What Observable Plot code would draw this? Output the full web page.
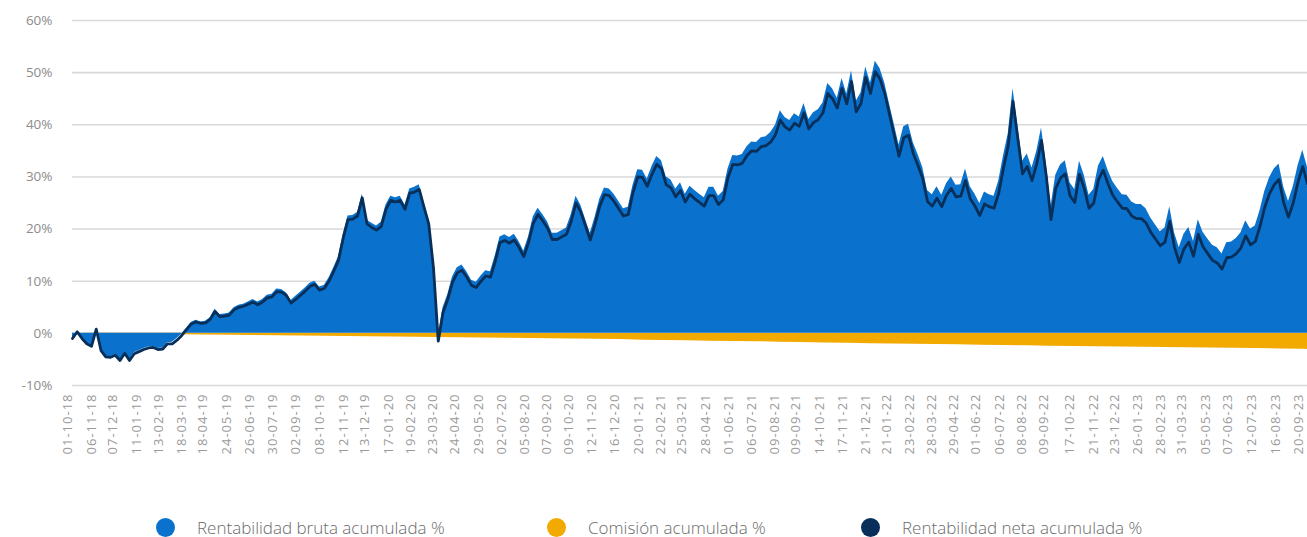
<!DOCTYPE html>
<html>
<head>
<meta charset="utf-8">
<script src="https://cdn.jsdelivr.net/npm/d3@7"></script>
<script src="https://cdn.jsdelivr.net/npm/@observablehq/plot@0.6"></script>
<style>
  html, body { margin: 0; padding: 0; background: #fff; }
  body { width: 1307px; height: 537px; overflow: hidden; font-family: "Open Sans", Lato, sans-serif; }
  #chart svg { display: block; }
  #chart svg g[aria-label="x-axis tick label"] text { letter-spacing: 1px; }
  #legend { position: relative; height: 20px; margin-top: 17px; }
  .item { position: absolute; top: 0; display: flex; align-items: center; height: 20px; }
  .dot { width: 19px; height: 19px; border-radius: 50%; margin-right: 22px; }
  .lbl { font-size: 17px; font-weight: 300; color: #6b6b6b; white-space: nowrap; }
</style>
</head>
<body>
<div id="chart"></div>
<div id="legend"></div>
<script>
// ---- data ----
const seriesNames = ["Rentabilidad bruta acumulada %", "Comisión acumulada %", "Rentabilidad neta acumulada %"];
const seriesColors = ["#0a72cc", "#f2a900", "#072f5a"];

const tickLabels = ["01-10-18","06-11-18","07-12-18","11-01-19","13-02-19","18-03-19","18-04-19","24-05-19","26-06-19","30-07-19","02-09-19","08-10-19","12-11-19","13-12-19","17-01-20","19-02-20","23-03-20","24-04-20","29-05-20","02-07-20","05-08-20","07-09-20","09-10-20","12-11-20","16-12-20","20-01-21","22-02-21","25-03-21","28-04-21","01-06-21","06-07-21","09-08-21","09-09-21","14-10-21","17-11-21","21-12-21","21-01-22","23-02-22","28-03-22","29-04-22","01-06-22","06-07-22","08-08-22","09-09-22","17-10-22","21-11-22","23-12-22","26-01-23","28-02-23","31-03-23","05-05-23","07-06-23","12-07-23","16-08-23","20-09-23"];

// weekly observations starting on this date
const startDate = "01-10-18";
const stepDays = 7;

const neta = [
-1.0,0.3,-1.0,-2.0,-2.5,0.8,-3.3,-4.5,-4.6,-4.2,-5.2,-3.8,-5.2,-3.9,-3.5,-3.1,-2.8,-2.7,-3.1,-3.0,
-2.0,-2.0,-1.3,-0.4,0.7,1.8,2.2,1.9,2.0,2.7,4.2,3.2,3.3,3.5,4.5,5.0,5.2,5.6,6.0,5.5,
6.0,6.8,7.0,8.0,7.9,7.3,5.8,6.5,7.3,8.1,9.0,9.4,8.3,8.6,10.0,11.9,14.0,18.3,21.8,21.9,
22.5,26.0,21.0,20.3,19.8,20.5,23.8,25.5,25.2,25.5,23.8,26.9,27.1,27.6,24.2,21.0,12.5,-1.5,4.0,6.5,
9.8,11.6,12.1,10.8,9.2,8.8,10.0,11.0,10.8,13.8,17.4,17.8,17.3,17.9,16.5,14.7,17.4,21.1,22.8,21.6,
20.2,18.0,18.0,18.5,19.0,21.5,25.0,23.3,20.6,17.9,20.9,24.4,26.6,26.4,25.3,23.9,22.5,22.8,27.0,30.0,
29.9,28.2,30.5,32.4,31.6,28.5,27.9,26.2,27.4,25.2,26.7,25.8,25.1,24.4,26.4,26.4,24.7,25.6,29.9,32.4,
32.3,32.6,34.1,35.0,34.9,35.8,36.0,36.7,38.1,40.9,39.6,39.0,40.3,39.7,42.3,39.2,40.4,41.0,42.3,46.0,
45.0,43.2,47.0,44.0,48.3,42.5,44.1,49.1,46.0,50.2,48.8,46.0,42.0,38.0,34.0,37.5,38.0,34.5,32.2,29.7,
25.3,24.4,25.9,24.3,26.5,27.8,26.2,26.3,29.3,25.8,24.4,22.6,24.8,24.3,24.0,26.9,31.7,36.0,44.5,37.5,
30.6,32.0,29.3,32.5,37.0,30.2,21.8,27.8,29.8,30.6,26.4,25.1,30.5,27.8,24.0,25.0,29.5,31.3,28.7,26.5,
25.2,24.0,23.9,22.5,22.0,22.0,21.2,19.4,18.1,16.8,17.5,21.5,16.5,13.6,16.2,17.5,14.8,19.0,16.6,15.3,
14.0,13.5,12.3,14.5,14.6,15.3,16.4,18.7,17.0,17.6,20.5,24.2,26.8,28.5,29.5,25.0,22.3,25.0,29.0,32.0,
28.7];

const bruta = [
-1.0,0.3,-1.0,-2.0,-2.5,0.9,-3.2,-4.4,-4.5,-4.1,-5.1,-3.7,-5.1,-3.7,-3.3,-2.9,-2.6,-2.5,-2.9,-2.8,
-1.8,-1.7,-1.0,-0.1,1.0,2.1,2.5,2.2,2.3,3.0,4.6,3.6,3.7,3.9,4.9,5.4,5.6,6.0,6.5,6.0,
6.5,7.3,7.5,8.5,8.4,7.8,6.3,7.1,7.9,8.7,9.6,10.0,8.9,9.2,10.6,12.6,14.7,19.0,22.5,22.6,
23.2,26.7,21.7,21.1,20.6,21.3,24.6,26.3,26.0,26.3,24.6,27.7,28.0,28.5,25.1,21.9,13.4,-0.6,4.9,7.4,
10.8,12.6,13.1,11.8,10.2,9.8,11.0,12.0,11.8,14.9,18.5,18.9,18.4,19.0,17.6,15.8,18.5,22.3,24.0,22.8,
21.4,19.2,19.2,19.7,20.2,22.8,26.3,24.6,21.9,19.2,22.2,25.7,27.9,27.7,26.7,25.3,23.9,24.2,28.4,31.4,
31.3,29.6,32.0,33.9,33.1,30.0,29.4,27.7,28.9,26.7,28.2,27.4,26.7,26.0,28.0,28.0,26.3,27.2,31.5,34.1,
34.0,34.3,35.8,36.7,36.6,37.5,37.7,38.5,39.9,42.7,41.4,40.8,42.1,41.5,44.1,41.0,42.3,42.9,44.2,47.9,
46.9,45.1,48.9,45.9,50.3,44.5,46.1,51.1,48.0,52.2,50.8,48.0,44.0,40.1,36.1,39.6,40.1,36.6,34.3,31.8,
27.4,26.6,28.1,26.5,28.7,30.0,28.4,28.5,31.5,28.1,26.7,24.9,27.1,26.6,26.3,29.2,34.0,38.3,46.9,39.9,
33.0,34.4,31.7,34.9,39.4,32.6,24.3,30.3,32.3,33.1,28.9,27.6,33.0,30.3,26.5,27.6,32.1,33.9,31.3,29.1,
27.8,26.6,26.5,25.2,24.7,24.7,23.9,22.1,20.8,19.5,20.2,24.3,19.3,16.4,19.0,20.3,17.6,21.8,19.4,18.1,
16.9,16.4,15.2,17.4,17.5,18.2,19.3,21.6,20.0,20.6,23.5,27.2,29.8,31.5,32.5,28.0,25.3,28.1,32.1,35.1,
31.8];

// commission read at each tick date, plus the final observation
const comisionFechas = tickLabels.concat(["25-09-23"]);
const comision = [0,-0.05,-0.1,-0.15,-0.2,-0.25,-0.3,-0.35,-0.4,-0.45,-0.5,-0.55,-0.6,-0.65,-0.7,-0.75,-0.8,-0.85,-0.9,-0.95,
-1.0,-1.05,-1.1,-1.15,-1.2,-1.3,-1.35,-1.4,-1.5,-1.55,-1.6,-1.7,-1.75,-1.85,-1.9,-2.0,-2.05,-2.1,-2.15,-2.2,
-2.3,-2.35,-2.4,-2.45,-2.5,-2.55,-2.6,-2.65,-2.7,-2.75,-2.8,-2.85,-2.9,-3.0,-3.05,-3.1];

const yTicks = [-10, 0, 10, 20, 30, 40, 50, 60];

// ---- build tables ----
const parse = d3.utcParse("%d-%m-%y");
const fmt = d3.utcFormat("%d-%m-%y");
const t0 = parse(startDate);
const weekly = neta.map((v, i) => ({date: d3.utcDay.offset(t0, i * stepDays), neta: v, bruta: bruta[i]}));
const comData = comision.map((v, i) => ({date: parse(comisionFechas[i]), com: v}));
const tickDates = tickLabels.map(parse);

const chart = Plot.plot({
  width: 1307,
  height: 500,
  marginTop: 20,
  marginBottom: 115,
  marginLeft: 72,
  marginRight: 0,
  style: {fontFamily: "'Open Sans', Lato, sans-serif", background: "#fff"},
  x: {type: "utc", domain: [weekly[0].date, weekly[weekly.length - 1].date], label: null},
  y: {domain: [-10, 60], label: null},
  marks: [
    Plot.ruleY(yTicks, {stroke: "#d9d9d9", strokeWidth: 1.6}),
    Plot.areaY(comData, {x: "date", y: "com", fill: seriesColors[1], curve: "linear"}),
    Plot.areaY(weekly, {x: "date", y: "bruta", fill: seriesColors[0], curve: "linear"}),
    Plot.lineY(weekly, {x: "date", y: "neta", stroke: seriesColors[2], strokeWidth: 2.8, strokeLinejoin: "round"}),
    Plot.axisY({ticks: yTicks, tickFormat: d => d + "%", tickSize: 0, tickPadding: 20, fontSize: 13.5, fill: "#8c8c8c", label: null}),
    Plot.axisX({ticks: tickDates, tickFormat: d => fmt(d), tickRotate: -90, tickSize: 0, tickPadding: 8, fontSize: 13, fill: "#9a9a9a", dx: -5, label: null})
  ]
});
document.getElementById("chart").appendChild(chart);

// ---- legend ----
const legendX = [156, 547, 861];
const legend = document.getElementById("legend");
seriesNames.forEach((name, i) => {
  const item = document.createElement("div");
  item.className = "item";
  item.style.left = legendX[i] + "px";
  const dot = document.createElement("span");
  dot.className = "dot";
  dot.style.background = seriesColors[i];
  const lbl = document.createElement("span");
  lbl.className = "lbl";
  lbl.textContent = name;
  item.appendChild(dot);
  item.appendChild(lbl);
  legend.appendChild(item);
});
</script>
</body>
</html>
